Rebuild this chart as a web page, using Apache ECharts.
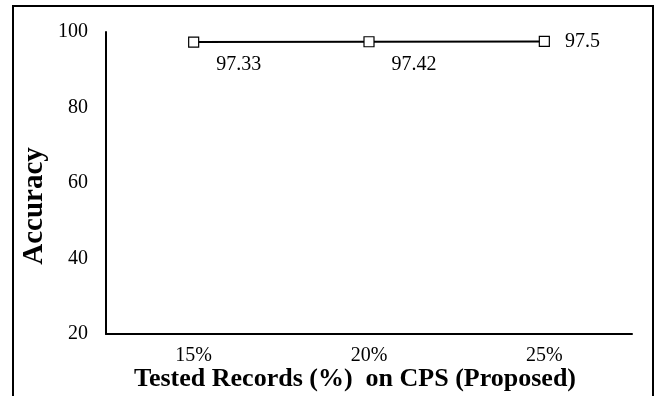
<!DOCTYPE html>
<html><head><meta charset="utf-8">
<script src="https://cdn.jsdelivr.net/npm/echarts@6/dist/echarts.min.js"></script>
<style>html,body{margin:0;padding:0;background:#fff}#c{width:660px;height:396px}</style>
</head><body><div id="c"></div>
<script>
const categories = ['15%', '20%', '25%'];
const accuracy = [97.33, 97.42, 97.5];
const yTicks = [20, 40, 60, 80, 100];

const font = '"Liberation Serif", "Times New Roman", serif';
const chart = echarts.init(document.getElementById('c'));
const labelPos = [
  {position: 'bottom', offset: [45, 2]},
  {position: 'bottom', offset: [45, 2]},
  {position: 'right', distance: 15, offset: [0, 0]}
];
chart.setOption({
  animation: false,
  backgroundColor: '#fff',
  graphic: [{
    type: 'rect', shape: {x: 13, y: 6, width: 640, height: 400},
    style: {fill: 'none', stroke: '#000', lineWidth: 2}, silent: true
  }],
  grid: {left: 106, right: 28, top: 32, bottom: 62, containLabel: false, outerBoundsMode: 'none'},
  xAxis: {
    type: 'category', data: categories, boundaryGap: true,
    axisLine: {lineStyle: {color: '#000', width: 2}},
    axisTick: {show: false},
    axisLabel: {color: '#000', fontFamily: font, fontSize: 20, margin: 12},
    name: 'Tested Records (%)  on CPS (Proposed)',
    nameLocation: 'middle', nameGap: 32, nameMoveOverlap: false,
    nameTextStyle: {color: '#000', fontFamily: font, fontSize: 26, fontWeight: 'bold', padding: [0, 28, 0, 0]}
  },
  yAxis: {
    type: 'value', min: yTicks[0], max: yTicks[yTicks.length - 1], interval: 20,
    axisLine: {show: true, lineStyle: {color: '#000', width: 2}},
    axisTick: {show: false},
    splitLine: {show: false},
    axisLabel: {color: '#000', fontFamily: font, fontSize: 20, margin: 18},
    name: 'Accuracy', nameLocation: 'middle', nameGap: 57, nameRotate: 90, nameMoveOverlap: false,
    nameTextStyle: {color: '#000', fontFamily: font, fontSize: 29, fontWeight: 'bold', padding: [0, 46, 0, 0]}
  },
  series: [{
    type: 'line',
    data: accuracy.map((v, i) => ({
      value: v,
      label: Object.assign({show: true}, labelPos[i])
    })),
    symbol: 'rect', symbolSize: 10, showAllSymbol: true,
    lineStyle: {color: '#000', width: 2},
    itemStyle: {color: '#fff', borderColor: '#000', borderWidth: 1.2},
    label: {color: '#000', fontFamily: font, fontSize: 20}
  }]
});
</script></body></html>
